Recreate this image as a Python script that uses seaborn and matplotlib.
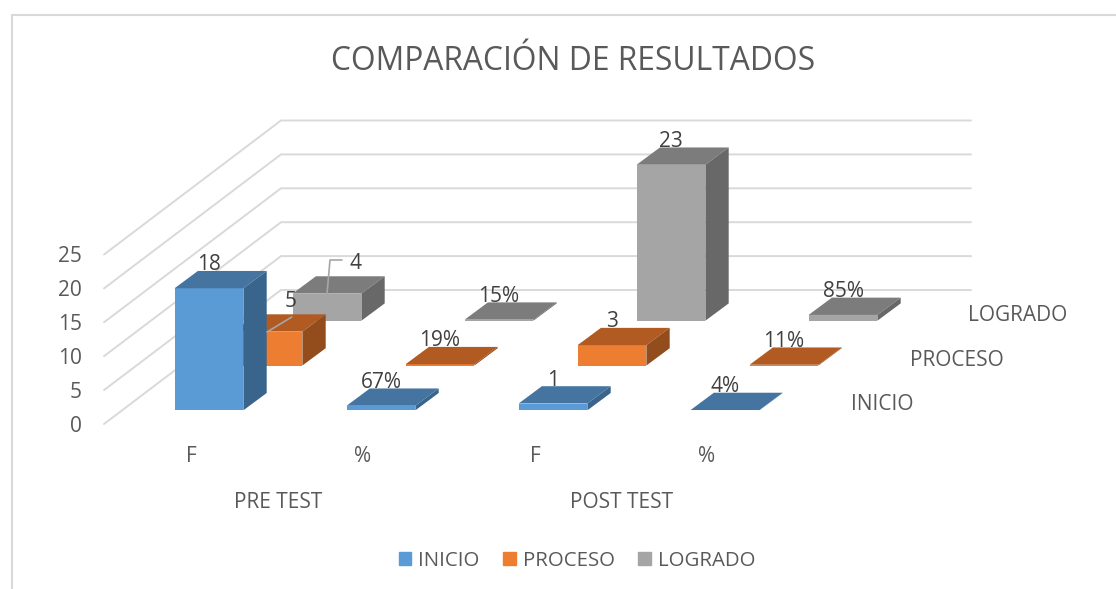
import matplotlib
matplotlib.use("Agg")
import matplotlib.pyplot as plt
from matplotlib.lines import Line2D
from matplotlib.patches import Patch
import seaborn as sns

# data
groups = ["F", "%", "F", "%"]
tests = ["PRE TEST", "POST TEST"]
series = ["INICIO", "PROCESO", "LOGRADO"]
inicio = [18, 0.67, 1, 0.04]
proceso = [5, 0.19, 3, 0.11]
logrado = [4, 0.15, 23, 0.85]
inicio_labels = ["18", "67%", "1", "4%"]
proceso_labels = ["5", "19%", "3", "11%"]
logrado_labels = ["4", "15%", "23", "85%"]
y_ticks = [0, 5, 10, 15, 20, 25]

colors = ["#5B9BD5", "#ED7D31", "#A5A5A5"]
top_colors = ["#44749F", "#B15B22", "#7C7C7C"]
side_colors = ["#39648B", "#934C1C", "#686868"]
text_color = "#595959"
label_color = "#404040"
grid_color = "#D9D9D9"

# 1. Configuration (the fake 3D is an oblique shift in data units)
W, H = 1116, 589
PX_X = 172.0    # pixels per category
PX_Y = 6.78     # pixels per value unit
X0, Y0 = 209.0, 410.3    # pixel of first category, value 0, front series
BAR_W = 0.4
DEPTH_X, DEPTH_Y = 23.3 / PX_X, 17.3 / PX_Y    # depth of one bar
STEP_X, STEP_Y = 59.0 / PX_X, 44.8 / PX_Y      # shift from one series to the next
FS = 15


def ux(px):
    return (px - X0) / PX_X


def uy(py):
    return (Y0 - py) / PX_Y


sns.set_theme(style="white")
plt.rcParams["font.family"] = ["Open Sans", "DejaVu Sans"]

fig = plt.figure(figsize=(W / 100, H / 100), dpi=100)
ax = fig.add_axes([0, 0, 1, 1])

# walls
for v in y_ticks:
    base = uy(424) + v
    back = uy(290) + v
    ax.plot([ux(104), ux(281), ux(971)], [base, back, back], color=grid_color, lw=1.4, zorder=1)
    ax.text(ux(82), base - 0.3, str(v), ha="right", va="center", fontsize=FS, color=text_color)

# series from back to front, so the near bars cover the far ones
all_values = [inicio, proceso, logrado]
all_labels = [inicio_labels, proceso_labels, logrado_labels]
for s in [2, 1, 0]:
    values = all_values[s]
    xs = [i + s * STEP_X for i in range(len(values))]
    bottom = s * STEP_Y
    z = 3 + (2 - s)
    sns.barplot(x=xs, y=values, bottom=bottom, native_scale=True, width=BAR_W, color=colors[s],
                saturation=1, errorbar=None, linewidth=0, ax=ax, zorder=z)
    for x, v, lab in zip(xs, values, all_labels[s]):
        left, right = x - BAR_W / 2, x + BAR_W / 2
        top = bottom + v
        ax.fill([left, right, right + DEPTH_X, left + DEPTH_X],
                [top, top, top + DEPTH_Y, top + DEPTH_Y], color=top_colors[s], lw=0, zorder=z)
        ax.fill([right, right + DEPTH_X, right + DEPTH_X, right],
                [bottom, bottom + DEPTH_Y, top + DEPTH_Y, top], color=side_colors[s], lw=0, zorder=z)
        # the two small PRE TEST labels were pulled off their bars
        lx, ly = x, top + 23.5 / PX_Y
        if lab == "5":
            lx, ly = ux(291), uy(301.5)
        if lab == "4":
            lx, ly = ux(355), uy(263.5)
        ax.text(lx, ly, lab, ha="center", va="center", fontsize=FS, color=label_color, zorder=10)
    ax.text(ux(851 + s * 58.7), uy(405 - s * 44.6), series[s], ha="left", va="center",
            fontsize=FS, color=text_color)

# leader lines of the moved labels
ax.plot([ux(267), ux(291.7)], [uy(332), uy(317)], color="#A6A6A6", lw=1.2, zorder=9)
ax.plot([ux(327), ux(330), ux(342)], [uy(294), uy(260), uy(260)], color="#A6A6A6", lw=1.2, zorder=9)

for i, g in enumerate(groups):
    ax.text(i - 18 / PX_X, uy(457), g, ha="center", va="center", fontsize=FS, color=text_color)
for i, t in enumerate(tests):
    ax.text(2 * i + 0.4, uy(503), t, ha="center", va="center", fontsize=FS, color=text_color)

ax.text(ux(573), uy(62), "COMPARACIÓN DE RESULTADOS", ha="center", va="center",
        fontsize=22.9, color=text_color)

handles = [Patch(color=c, label=n) for c, n in zip(colors, series)]
ax.legend(handles=handles, ncol=3, loc="center", bbox_to_anchor=(577 / W, 1 - 561 / H), frameon=False,
          fontsize=14.7, labelcolor=text_color, handlelength=0.62, handleheight=0.62,
          handletextpad=0.34, columnspacing=1.15)

# chart border, cut by the edge of the picture
fig.add_artist(Line2D([12 / W, 12 / W], [0, 1 - 15 / H], color=grid_color, lw=1.5))
fig.add_artist(Line2D([12 / W, 1], [1 - 15 / H, 1 - 15 / H], color=grid_color, lw=1.5))

ax.set_xlim(ux(0), ux(W))
ax.set_ylim(uy(H), uy(0))
ax.axis("off")

fig.savefig("out.png", dpi=100)
